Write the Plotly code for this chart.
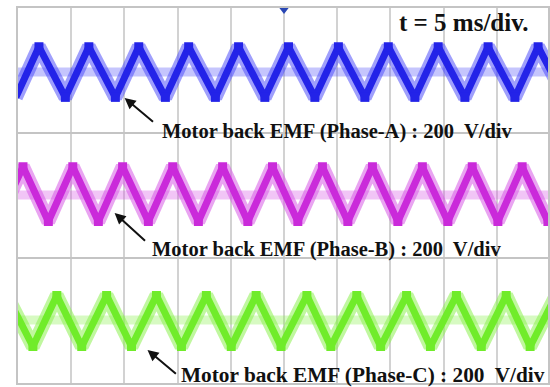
import plotly.graph_objects as go

# ---- data (time in ms, level in display units; each grid panel = 1 unit) ----
time_div_ms = 5
x_max_ms = 49.81

phases = ["A", "B", "C"]
colors_main = {"A": "rgb(35,35,232)", "B": "rgb(202,42,218)", "C": "rgb(112,236,42)"}
colors_light = {"A": "rgba(80,80,250,0.55)", "B": "rgba(215,90,230,0.55)", "C": "rgba(140,240,80,0.55)"}
colors_band = {"A": "rgba(90,90,250,0.35)", "B": "rgba(215,90,230,0.35)", "C": "rgba(140,240,80,0.35)"}

peaks_A = [1.97, 6.66, 11.35, 16.04, 20.73, 25.42, 30.11, 34.80, 39.49, 44.18, 48.88]
troughs_A = [-0.20, 4.45, 9.15, 13.85, 18.55, 23.20, 27.90, 32.60, 37.30, 42.00, 46.70, 51.40]
peaks_B = [0.47, 5.15, 9.83, 14.54, 19.23, 23.92, 28.61, 33.31, 38.00, 42.69, 47.38]
troughs_B = [-1.90, 2.85, 7.55, 12.25, 16.95, 21.60, 26.30, 31.00, 35.70, 40.40, 45.10, 49.80]
peaks_C = [-1.05, 3.65, 8.33, 13.01, 17.70, 22.38, 27.15, 31.84, 36.52, 41.20, 45.88, 50.56]
troughs_C = [1.40, 5.99, 10.67, 15.36, 20.04, 24.72, 29.40, 34.08, 38.76, 43.54, 48.13]

peak_level = {"A": 2.690, "B": 1.730, "C": 0.700}
trough_level = {"A": 2.285, "B": 1.292, "C": 0.292}
center_level = {"A": 2.488, "B": 1.504, "C": 0.504}

peaks = {"A": peaks_A, "B": peaks_B, "C": peaks_C}
troughs = {"A": troughs_A, "B": troughs_B, "C": troughs_C}

labels = {
    "A": "Motor back EMF (Phase-A) : 200  V/div",
    "B": "Motor back EMF (Phase-B) : 200  V/div",
    "C": "Motor back EMF (Phase-C) : 200  V/div",
}
label_size = {"A": 20.5, "B": 20.5, "C": 21.3}
label_pos = {"A": (13.30, 2.012), "B": (12.36, 1.068), "C": (15.17, 0.062)}
arrow_head = {"A": (10.02, 2.280), "B": (9.08, 1.360), "C": (12.17, 0.264)}
arrow_tail = {"A": (12.83, 2.080), "B": (12.08, 1.128), "C": (14.98, 0.064)}
channel_tag = {"A": "1", "B": "2", "C": "3"}
timebase_text = "t = 5 ms/div."

fig = go.Figure()

for ph in phases:
    c = center_level[ph]
    # centre band (PWM zero-state band)
    fig.add_trace(go.Scatter(
        x=[-1, 60], y=[c, c], mode="lines",
        line=dict(color=colors_band[ph], width=9),
        hoverinfo="skip", showlegend=False))
    pts = sorted([(t, peak_level[ph]) for t in peaks[ph]] +
                 [(t, trough_level[ph]) for t in troughs[ph]])
    xs = [p[0] for p in pts]
    ys = [p[1] for p in pts]
    fig.add_trace(go.Scatter(
        x=xs, y=ys, mode="lines",
        line=dict(color=colors_light[ph], width=14),
        hoverinfo="skip", showlegend=False))
    fig.add_trace(go.Scatter(
        x=xs, y=ys, mode="lines+markers",
        line=dict(color=colors_main[ph], width=7),
        marker=dict(symbol="square", size=9, color=colors_main[ph]),
        hoverinfo="skip", showlegend=False))

annotations = []
for ph in phases:
    hx, hy = arrow_head[ph]
    tx, ty = arrow_tail[ph]
    annotations.append(dict(
        x=hx, y=hy, ax=tx, ay=ty, xref="x", yref="y", axref="x", ayref="y",
        text="", showarrow=True, arrowhead=2, arrowsize=1.1, arrowwidth=2,
        arrowcolor="#111111"))
    lx, ly = label_pos[ph]
    annotations.append(dict(
        x=lx, y=ly, xref="x", yref="y", text="<b>" + labels[ph] + "</b>",
        showarrow=False, xanchor="left", yanchor="middle",
        font=dict(family="Liberation Serif", size=label_size[ph], color="#111111")))
    annotations.append(dict(
        x=-0.75, y=center_level[ph], xref="x", yref="y", text=channel_tag[ph],
        showarrow=False, xanchor="center", yanchor="middle",
        font=dict(family="Liberation Sans", size=8, color=colors_main[ph])))

annotations.append(dict(
    x=35.6, y=2.885, xref="x", yref="y", text="<b>" + timebase_text + "</b>",
    showarrow=False, xanchor="left", yanchor="middle",
    font=dict(family="Liberation Serif", size=25, color="#111111")))

# trigger marker
fig.add_trace(go.Scatter(
    x=[25], y=[2.985], mode="markers",
    marker=dict(symbol="triangle-down", size=8, color="rgb(40,70,180)"),
    hoverinfo="skip", showlegend=False, cliponaxis=False))

fig.update_layout(
    width=550, height=387,
    margin=dict(l=18, r=0, t=8, b=4),
    paper_bgcolor="white", plot_bgcolor="white",
    annotations=annotations,
    showlegend=False,
)
fig.update_xaxes(range=[0, x_max_ms], dtick=time_div_ms, tick0=0,
                 showgrid=True, gridcolor="#d2d2d2", gridwidth=1.5,
                 showticklabels=False, ticks="", zeroline=False,
                 showline=True, linecolor="#c4c4c4", linewidth=2, mirror=True)
fig.update_yaxes(range=[0, 3], dtick=1, tick0=0,
                 showgrid=True, gridcolor="#c4c4c4", gridwidth=2,
                 showticklabels=False, ticks="", zeroline=False,
                 showline=True, linecolor="#c4c4c4", linewidth=2, mirror=True)

fig.write_html("out.html")
